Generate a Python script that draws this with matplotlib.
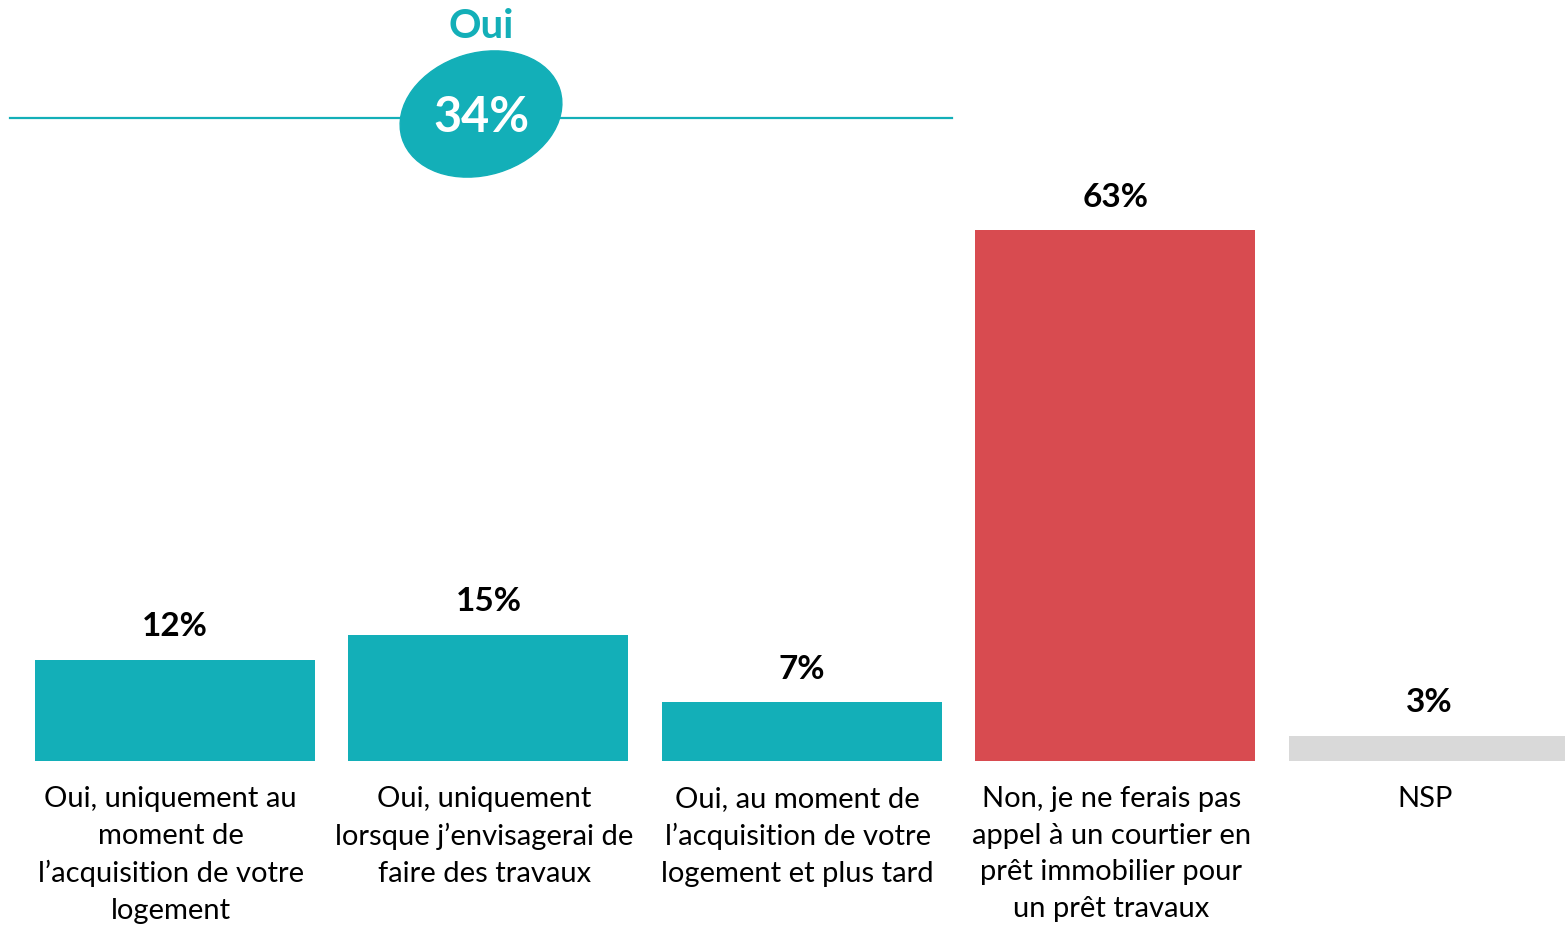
import numpy as np
import matplotlib.pyplot as plt
from matplotlib.patches import Ellipse

plt.rcParams['font.family'] = ['Lato', 'DejaVu Sans']

categories = [
    "Oui, uniquement au\nmoment de\nl\u2019acquisition de votre\nlogement",
    "Oui, uniquement\nlorsque j\u2019envisagerai de\nfaire des travaux",
    "Oui, au moment de\nl\u2019acquisition de votre\nlogement et plus tard",
    "Non, je ne ferais pas\nappel \u00e0 un courtier en\npr\u00eat immobilier pour\nun pr\u00eat travaux",
    "NSP",
]
values = [12, 15, 7, 63, 3]
oui_label = "Oui"
oui_total = sum(values[:3])

teal = '#13AFB8'
red = '#D84B50'
grey = '#D9D9D9'
bar_colors = [teal, teal, teal, red, grey]

W, H = 1565, 928
fig = plt.figure(figsize=(W / 100, H / 100), dpi=100)

# main bar axes: baseline at y=762 px, full width
base_px = 762
ax = fig.add_axes([0, 1 - base_px / H, 1, base_px / H])
x = np.arange(len(values))
ax.bar(x, values, width=0.893, color=bar_colors, zorder=2)
ax.set_xlim(-0.558, 4.434)
ax.set_ylim(0, 90.4)
ax.axis('off')

for xi, v in zip(x, values):
    ax.annotate(f"{v}%", (xi, v), xytext=(0, 14), textcoords='offset points',
                ha='center', va='bottom', fontsize=24, fontweight='bold', color='black')

for xi, lab in zip(x, categories):
    ax.annotate(lab, (xi, 0), xytext=(-3, -17), textcoords='offset points',
                ha='center', va='top', fontsize=21, color='black',
                linespacing=1.52, annotation_clip=False)

# overlay in pixel coordinates for the "Oui" badge
ov = fig.add_axes([0, 0, 1, 1], zorder=3)
ov.set_xlim(0, W)
ov.set_ylim(H, 0)
ov.axis('off')
ov.plot([10, 952], [119, 119], color=teal, lw=1.6, zorder=1)
ov.add_patch(Ellipse((481, 115), 165, 122, angle=-17, color=teal, zorder=2))
ov.text(481, 118, f"{oui_total}%", ha='center', va='center', fontsize=35,
        fontweight='bold', color='white', zorder=3)
ov.text(481, 26, oui_label, ha='center', va='center', fontsize=29,
        fontweight='bold', color=teal, zorder=3)

fig.savefig('out.png', dpi=100)
